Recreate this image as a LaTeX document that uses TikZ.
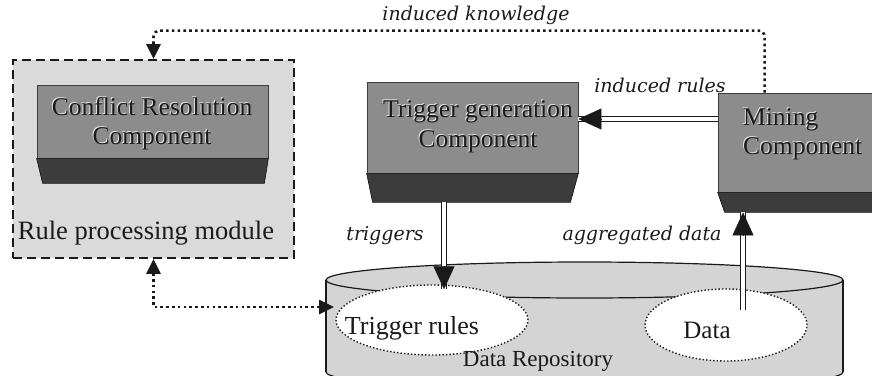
\documentclass[tikz,border=0pt]{standalone}
\usepackage{fontspec}
\setmainfont{Liberation Serif}
\newfontfamily\labelfont{DejaVu Serif}
\usetikzlibrary{arrows.meta,calc,shapes.geometric}

\definecolor{modfill}{HTML}{DADADA}
\definecolor{facefill}{HTML}{8C8C8C}
\definecolor{basefill}{HTML}{3C3C3C}
\definecolor{repofill}{HTML}{D4D4D4}
\definecolor{ink}{HTML}{1A1A1A}
\definecolor{shine}{HTML}{E2E2E2}

\tikzset{
  face/.style={rectangle, inner sep=0pt, fill=facefill, draw=ink!85, line width=0.7pt},
  base/.style={fill=basefill, draw=ink, line width=0.7pt},
  boxtext/.style={font=\rmfamily\fontsize{25.5}{29}\selectfont, text=ink, inner sep=0pt},
  boxshine/.style={boxtext, text=shine},
  dotline/.style={draw=ink, line width=2.6pt, dash pattern=on 2.6pt off 3.2pt},
  dottip/.style={-{Triangle[width=14pt,length=15pt]}},
  dblline/.style={draw=ink, double=white, double distance=3.6pt, line width=1.1pt},
  bighead/.style={-{Triangle[width=21pt,length=23pt]}, draw=ink, line width=0.5pt},
  flowlabel/.style={font=\labelfont\itshape\fontsize{19}{24}\selectfont, text=ink, inner sep=0pt},
  store/.style={ellipse, draw=ink, fill=white, line width=1.4pt, dash pattern=on 1.4pt off 2.1pt, inner sep=0pt},
  storetext/.style={font=\rmfamily\fontsize{26}{30}\selectfont, text=ink, inner sep=0pt},
}

\begin{document}
\begin{tikzpicture}[x=1pt,y=-1pt]
\useasboundingbox (0,0) rectangle (872,375);
\clip (0,0) rectangle (872,375);

% rule processing module (dashed container)
\node[rectangle, draw=ink, fill=modfill, line width=1.8pt, dash pattern=on 9pt off 5pt,
      minimum width=281pt, minimum height=198pt, inner sep=0pt] (rpm) at (153.5,159) {};
\node[storetext, font=\rmfamily\fontsize{26.5}{30}\selectfont] (rpmlabel) at (146,233) {Rule processing module};

% conflict resolution component
\node[face, minimum width=231pt, minimum height=73pt] (crc) at (152.5,121.5) {};
\draw[base] (crc.south west) -- (crc.south east) -- ++(-4,25) -- ($(crc.south west)+(6,25)$) -- cycle;
\node[boxshine, align=center] (crcshine) at (151,123) {Conflict Resolution\\Component};
\node[boxtext, align=center] (crclabel) at (152,124) {Conflict Resolution\\Component};

% trigger generation component
\node[face, minimum width=211pt, minimum height=91pt] (tgc) at (472.5,127.5) {};
\draw[base] (tgc.south west) -- (tgc.south east) -- ++(-8,29) -- ($(tgc.south west)+(6,29)$) -- cycle;
\node[boxshine, align=center, font=\rmfamily\fontsize{25.5}{30}\selectfont] (tgcshine) at (477,126) {Trigger generation\\Component};
\node[boxtext, align=center, font=\rmfamily\fontsize{25.5}{30}\selectfont] (tgclabel) at (478,127) {Trigger generation\\Component};

% mining component
\node[face, minimum width=182pt, minimum height=99pt] (mc) at (809,142.5) {};
\coordinate (mcbot) at ($(mc.south west)+(0,20)$);
\draw[base] (mc.south west) -- (mc.south east) -- ++(0,20) -- ($(mc.south west)+(7,20)$) -- cycle;
\node[boxshine, align=left, anchor=west] (mcshine) at (742,133) {Mining\\Component};
\node[boxtext, align=left, anchor=west] (mclabel) at (743,134) {Mining\\Component};

% data repository cylinder
\fill[repofill] (326,280) rectangle (843,372);
\fill[repofill] (584.5,372) ellipse [x radius=258.5, y radius=18];
\begin{scope}
  \clip (0,372) rectangle (872,400);
  \draw[ink, line width=1.2pt] (584.5,372) ellipse [x radius=258.5, y radius=18];
\end{scope}
\draw[ink, line width=1.2pt] (326,280) -- (326,372) (843,280) -- (843,372);
\filldraw[fill=repofill, draw=ink, line width=1.2pt] (584.5,280) ellipse [x radius=258.5, y radius=18];
\coordinate (repoLeft) at (334,307);

% stores inside the repository
\node[store, minimum width=192pt, minimum height=70pt] (tr) at (432,320) {};
\node[storetext] (trlabel) at (412,328) {Trigger rules};
\node[store, minimum width=162pt, minimum height=72pt] (data) at (726,325) {};
\node[storetext, font=\rmfamily\fontsize{25}{30}\selectfont] (datalabel) at (707,330) {Data};
\node[storetext, font=\rmfamily\fontsize{23}{28}\selectfont] (repolabel) at (538,361) {Data Repository};

% induced knowledge (dotted feedback to the rule module)
\draw[dotline, dottip, rounded corners=6pt] ($(mc.north west)+(47,0)$) -- ++(0,-62) -| (rpm.north);
\node[flowlabel] (iklabel) at (476,15) {induced knowledge};

% link between rule module and repository
\draw[dotline, {Triangle[width=14pt,length=15pt]}-{Triangle[width=14pt,length=15pt]}] (rpm.south) |- (repoLeft);

% triggers
\coordinate (trigOut) at (444,202);
\coordinate (trigIn) at ($(trigOut |- tr.north)+(0,5)$);
\draw[dblline] (trigOut) -- (trigIn);
\draw[bighead] ($(trigIn)+(0,-23)$) -- (trigIn);
\node[flowlabel] (trglabel) at (385,236) {triggers};

% aggregated data
\coordinate (aggIn) at (743,310);
\coordinate (aggOut) at (aggIn |- mcbot);
\draw[dblline] (aggIn) -- (aggOut);
\draw[bighead] ($(aggOut)+(0,23)$) -- (aggOut);
\node[flowlabel] (agglabel) at (642,235) {aggregated data};

% induced rules
\coordinate (irRow) at (650,119);
\draw[dblline] (irRow -| mc.west) -- (irRow -| tgc.east);
\draw[bighead] ($(irRow -| tgc.east)+(23,0)$) -- (irRow -| tgc.east);
\node[flowlabel] (irlabel) at (660,85) {induced rules};
\end{tikzpicture}
\end{document}
